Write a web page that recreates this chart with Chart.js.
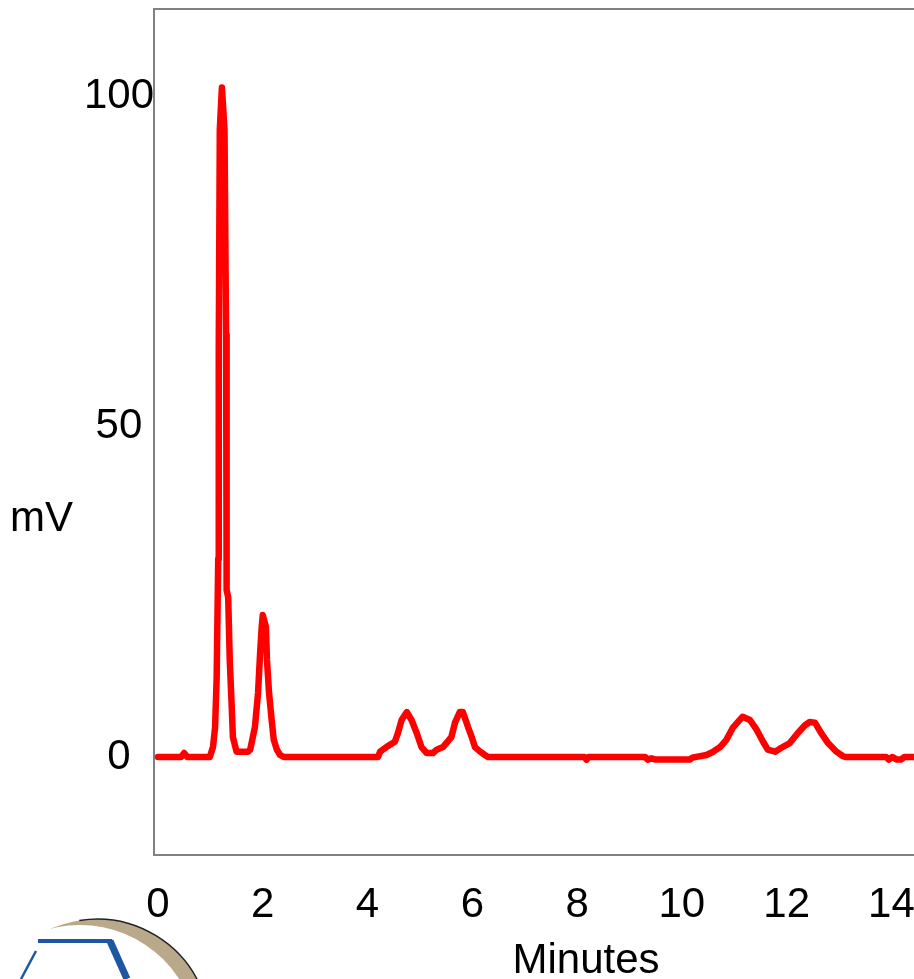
<!DOCTYPE html>
<html>
<head>
<meta charset="utf-8">
<script src="https://cdn.jsdelivr.net/npm/chart.js@4.4.0/dist/chart.umd.min.js"></script>
<style>
  html, body { margin: 0; padding: 0; background: #fff; overflow: hidden; }
  #marco { width: 914px; height: 979px; overflow: hidden; }
</style>
</head>
<body>
<div id="marco">
  <canvas id="grafico" width="1032" height="979" style="width:1032px;height:979px"></canvas>
</div>
<script>
// Datos del cromatograma
const tiempos = [
  0.00, 0.44, 0.50, 0.56, 0.99, 1.05, 1.09, 1.12, 1.15, 1.16, 1.18, 1.22, 1.27, 1.30,
  1.31, 1.34, 1.37, 1.41, 1.43, 1.50, 1.64, 1.72, 1.76, 1.85, 1.91, 1.95, 1.98, 2.00,
  2.06, 2.08, 2.12, 2.17, 2.21, 2.27, 2.33, 2.40,
  4.20, 4.24, 4.36, 4.52, 4.58, 4.65, 4.75, 4.84, 4.94, 5.03, 5.13, 5.25, 5.32, 5.44,
  5.60, 5.67, 5.76, 5.82, 5.92, 5.99, 6.05, 6.15, 6.24, 6.30,
  8.14, 8.18, 8.22, 9.30, 9.35, 9.42, 9.50, 9.58, 10.15, 10.20,
  10.47, 10.59, 10.73, 10.85, 10.97, 11.16, 11.30, 11.43, 11.55, 11.64, 11.78, 11.90,
  12.06, 12.21, 12.35, 12.44, 12.54, 12.66, 12.79, 12.95, 13.07, 13.12,
  13.90, 13.95, 14.02, 14.10, 14.18, 14.25, 16.40
];
const senal = [
  0, 0, 0.6, 0, 0, 1.5, 4.5, 12, 30, 62, 95, 101.4, 95, 64,
  25.3, 24.2, 14.7, 7.1, 3.0, 0.8, 0.8, 0.8, 1.1, 4.5, 9.7, 15.8, 19.7, 21.5,
  19.7, 14.7, 9.7, 5.6, 2.6, 1.1, 0.3, 0,
  0, 0.8, 1.5, 2.3, 3.6, 5.6, 6.8, 5.6, 3.6, 1.5, 0.6, 0.6, 1.1, 1.5,
  3.0, 5.2, 6.8, 6.8, 4.5, 3.0, 1.5, 0.8, 0.3, 0,
  0, -0.4, 0, 0, -0.4, -0.2, -0.4, -0.4, -0.4, -0.1,
  0.3, 0.75, 1.5, 2.6, 4.4, 6.1, 5.6, 4.1, 2.3, 1.1, 0.8, 1.4,
  2.1, 3.6, 4.8, 5.3, 5.2, 3.6, 2.1, 0.8, 0.15, 0,
  0, -0.4, 0, -0.4, -0.4, 0, 0
];
const ticksX = [0, 2, 4, 6, 8, 10, 12, 14];
const ticksY = [0, 50, 100];

const rojo = "#ff0000";
const fuente = "'Liberation Sans', Arial, sans-serif";

const puntos = tiempos.map((t, i) => ({ x: t, y: senal[i] }));

// Marco gris, etiqueta mV y logotipo
const extras = {
  id: "extras",
  beforeDatasetsDraw(chart) {
    const { ctx, chartArea: a } = chart;
    ctx.save();
    ctx.strokeStyle = "#808080";
    ctx.lineWidth = 2;
    ctx.strokeRect(a.left, a.top, a.right - a.left, a.bottom - a.top);
    ctx.restore();
  },
  afterDraw(chart) {
    const { ctx } = chart;
    const y = chart.scales.y;
    ctx.save();
    ctx.fillStyle = "#000";
    ctx.font = "42px " + fuente;
    ctx.textAlign = "left";
    ctx.textBaseline = "middle";
    ctx.fillText("mV", 10, y.getPixelForValue(36));

    // logotipo (recortado)
    ctx.fillStyle = "#b9a88a";
    ctx.beginPath();
    ctx.arc(97, 1032, 113, 0, Math.PI * 2);
    ctx.fill();
    ctx.fillStyle = "#fff";
    ctx.beginPath();
    ctx.arc(80, 1043, 118, 0, Math.PI * 2);
    ctx.fill();
    ctx.strokeStyle = "#222";
    ctx.lineWidth = 1.5;
    ctx.beginPath();
    ctx.arc(97, 1032, 113, -Math.PI * 0.55, -Math.PI * 0.1);
    ctx.stroke();
    ctx.strokeStyle = "#1d57a3";
    ctx.lineCap = "butt";
    ctx.lineWidth = 4;
    ctx.beginPath();
    ctx.moveTo(38, 941);
    ctx.lineTo(112, 941);
    ctx.stroke();
    ctx.lineWidth = 7;
    ctx.beginPath();
    ctx.moveTo(110, 941);
    ctx.lineTo(127, 979);
    ctx.stroke();
    ctx.lineWidth = 2.5;
    ctx.beginPath();
    ctx.moveTo(36, 951);
    ctx.lineTo(21, 979);
    ctx.stroke();
    ctx.restore();
  }
};

new Chart(document.getElementById("grafico"), {
  type: "line",
  data: {
    datasets: [{
      data: puntos,
      borderColor: rojo,
      borderWidth: 6.5,
      pointRadius: 0,
      tension: 0,
      borderJoinStyle: "round",
      borderCapStyle: "round"
    }]
  },
  options: {
    responsive: false,
    animation: false,
    layout: { padding: { top: 9, left: 0, right: 14, bottom: 0 } },
    plugins: { legend: { display: false }, tooltip: { enabled: false } },
    scales: {
      x: {
        type: "linear",
        min: -0.076,
        max: 16.416,
        grid: { display: false, drawTicks: false },
        border: { display: false },
        afterBuildTicks: (s) => { s.ticks = ticksX.map(v => ({ value: v })); },
        afterFit: (s) => { s.height = 124; },
        ticks: {
          color: "#000",
          padding: 25,
          maxRotation: 0,
          autoSkip: false,
          font: { family: fuente, size: 42 }
        },
        title: {
          display: true,
          text: "Minutes",
          color: "#000",
          padding: { top: 0, bottom: -3 },
          font: { family: fuente, size: 42, lineHeight: 1 }
        }
      },
      y: {
        min: -14.85,
        max: 113.3,
        grid: { display: false, drawTicks: false },
        border: { display: false },
        afterBuildTicks: (s) => { s.ticks = ticksY.map(v => ({ value: v })); },
        afterFit: (s) => { s.width = 154; },
        ticks: {
          color: "#000",
          padding: 0,
          crossAlign: "center",
          font: { family: fuente, size: 42, lineHeight: 0.3 }
        }
      }
    }
  },
  plugins: [extras]
});
</script>
</body>
</html>
